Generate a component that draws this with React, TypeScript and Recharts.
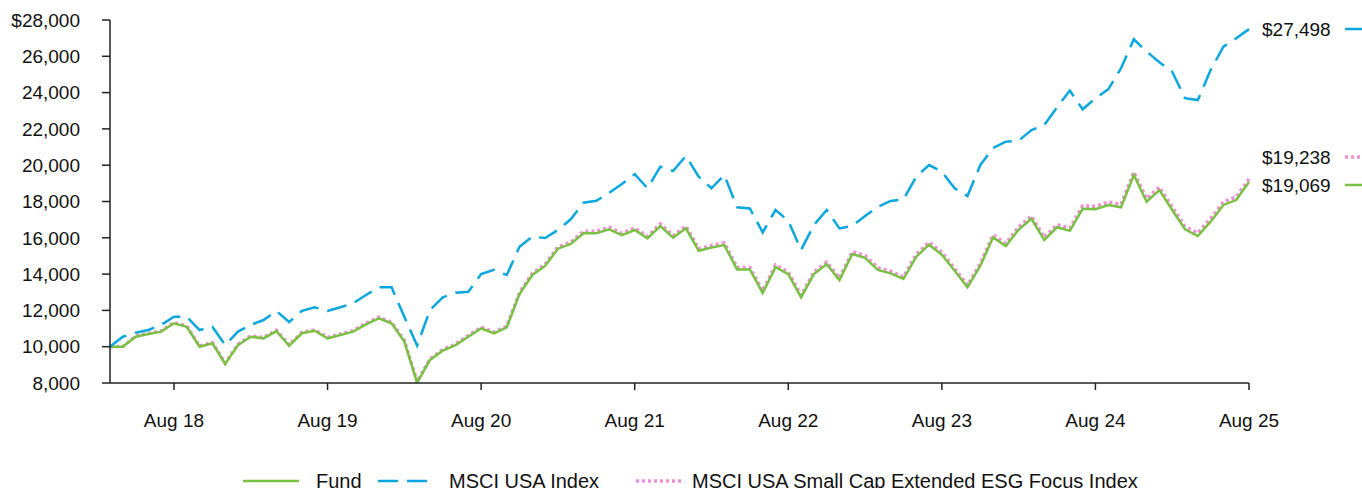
import React from "react";
import { LineChart, Line, XAxis, YAxis, LabelList } from "recharts";

// monthly points, Mar 2018 .. Aug 2025
const MONTH_NAMES = ["Jan", "Feb", "Mar", "Apr", "May", "Jun", "Jul", "Aug", "Sep", "Oct", "Nov", "Dec"];
const months: string[] = [];
for (let y = 2018; y <= 2025; y++) {
  for (let m = 0; m < 12; m++) {
    if (y === 2018 && m < 2) continue;
    if (y === 2025 && m > 7) break;
    months.push(`${MONTH_NAMES[m]} ${String(y).slice(2)}`);
  }
}

const xTicks = ["Aug 18", "Aug 19", "Aug 20", "Aug 21", "Aug 22", "Aug 23", "Aug 24", "Aug 25"];
const yTicks = [8000, 10000, 12000, 14000, 16000, 18000, 20000, 22000, 24000, 26000, 28000];

const fund = [
  10000, 10000, 10550, 10700, 10830, 11290, 11100, 10000, 10190, 9050,
  10090, 10550, 10460, 10860, 10055, 10740, 10880, 10460, 10640, 10830,
  11230, 11560, 11290, 10280, 8020, 9270, 9780, 10090, 10550, 11010,
  10740, 11070, 12900, 13950, 14450, 15400, 15660, 16250, 16250, 16470,
  16150, 16430, 15970, 16650, 16010, 16520, 15290, 15470, 15600, 14260,
  14260, 12960, 14380, 14000, 12720, 14000, 14540, 13670, 15110, 14900,
  14230, 14040, 13730, 14960, 15620, 15070, 14180, 13270, 14450, 16020,
  15550, 16450, 17050, 15880, 16580, 16380, 17600, 17580, 17810, 17680,
  19460, 17990, 18630, 17530, 16470, 16100, 16890, 17810, 18080, 19069,
];

const msciUsa = [
  10000, 10550, 10770, 10920, 11200, 11650, 11650, 10920, 11100, 10090,
  10830, 11200, 11470, 11970, 11360, 11980, 12170, 11970, 12170, 12390,
  12850, 13270, 13270, 11650, 10060, 12020, 12720, 12975, 13030, 14000,
  14230, 13950, 15510, 16060, 15990, 16430, 17020, 17930, 18040, 18480,
  18960, 19510, 18730, 19920, 19680, 20510, 19370, 18730, 19460, 17680,
  17620, 16300, 17530, 16940, 15330, 16700, 17530, 16520, 16650, 17200,
  17710, 18030, 18120, 19370, 20010, 19640, 18730, 18300, 20000, 20950,
  21300, 21350, 21940, 22210, 23190, 24110, 23080, 23690, 24180, 25340,
  26940, 26260, 25670, 25150, 23690, 23590, 25240, 26530, 26990, 27498,
];

const smallCapEsg = [
  10000, 10010, 10580, 10730, 10870, 11330, 11140, 10040, 10230, 9090,
  10130, 10600, 10510, 10910, 10100, 10790, 10930, 10510, 10700, 10890,
  11290, 11630, 11350, 10340, 8070, 9320, 9840, 10150, 10620, 11080,
  10810, 11140, 12980, 14040, 14540, 15500, 15760, 16360, 16360, 16580,
  16260, 16540, 16080, 16770, 16120, 16640, 15400, 15580, 15720, 14370,
  14370, 13070, 14500, 14110, 12830, 14120, 14660, 13780, 15240, 15030,
  14350, 14160, 13850, 15090, 15760, 15200, 14310, 13390, 14580, 16160,
  15690, 16600, 17200, 16020, 16730, 16530, 17760, 17740, 17970, 17840,
  19620, 18150, 18800, 17690, 16630, 16260, 17060, 17980, 18250, 19238,
];

const data = months.map((m, i) => ({
  month: m,
  fund: fund[i],
  msci: msciUsa[i],
  esg: smallCapEsg[i],
}));

const FONT = '"Liberation Sans", Arial, Helvetica, sans-serif';
const GREEN = "#7AC143";
const BLUE = "#0AA6DE";
const PINK = "#F08ED8";
const AXIS = "#222";
const LAST = data.length - 1;

const fmtEnd = (v: number) => "$" + v.toLocaleString("en-US");

// end-of-line value label with a small line sample after it
const endLabel = (color: string, dash: string | undefined, width: number, dy: number) =>
  (props: any) => {
    const { x, y, index, value } = props;
    if (index !== LAST) return null;
    const ty = y + dy;
    return (
      <g>
        <text x={x + 13} y={ty} dy="0.35em" fontSize={19} fontFamily={FONT} fill="#111">
          {fmtEnd(value)}
        </text>
        <line x1={x + 96} x2={x + 130} y1={ty} y2={ty} stroke={color} strokeWidth={width} strokeDasharray={dash} />
      </g>
    );
  };

const legendItems = [
  { name: "Fund", color: GREEN, dash: undefined, width: 2.5, lineX: 243, lineW: 56, textX: 316 },
  { name: "MSCI USA Index", color: BLUE, dash: "20 9", width: 2.5, lineX: 378, lineW: 56, textX: 449 },
  { name: "MSCI USA Small Cap Extended ESG Focus Index", color: PINK, dash: "3 3", width: 3.5, lineX: 636, lineW: 47, textX: 692 },
];

export default function App() {
  return (
    <div style={{ position: "absolute", left: 0, top: 0, width: 1362, height: 488, background: "#fff", overflow: "hidden" }}>
      <LineChart width={1362} height={488} data={data} margin={{ top: 20, right: 113, bottom: 45, left: 0 }}>
        <XAxis
          dataKey="month"
          ticks={xTicks}
          interval={0}
          height={60}
          stroke={AXIS}
          strokeWidth={1.5}
          tickSize={7}
          tickMargin={24}
          tick={{ fontSize: 19, fontFamily: FONT, fill: "#111" }}
        />
        <YAxis
          domain={[8000, 28000]}
          ticks={yTicks}
          interval={0}
          width={110}
          stroke={AXIS}
          strokeWidth={1.5}
          tickSize={8}
          tickMargin={22}
          allowDataOverflow
          tick={{ fontSize: 19, fontFamily: FONT, fill: "#111" }}
          tickFormatter={(v: number) => (v === 28000 ? "$" : "") + v.toLocaleString("en-US")}
        />
        <Line
          dataKey="esg"
          name="MSCI USA Small Cap Extended ESG Focus Index"
          type="linear"
          stroke={PINK}
          strokeWidth={3.5}
          strokeDasharray="3 3"
          dot={false}
          isAnimationActive={false}
        >
          <LabelList dataKey="esg" content={endLabel(PINK, "3 3", 3.5, -22)} />
        </Line>
        <Line
          dataKey="fund"
          name="Fund"
          type="linear"
          stroke={GREEN}
          strokeWidth={2.5}
          dot={false}
          isAnimationActive={false}
        >
          <LabelList dataKey="fund" content={endLabel(GREEN, undefined, 2.5, 3)} />
        </Line>
        <Line
          dataKey="msci"
          name="MSCI USA Index"
          type="linear"
          stroke={BLUE}
          strokeWidth={2.5}
          strokeDasharray="20 9"
          dot={false}
          isAnimationActive={false}
        >
          <LabelList dataKey="msci" content={endLabel(BLUE, "20 9", 2.5, 0)} />
        </Line>
      </LineChart>
      {legendItems.map((it) => (
        <React.Fragment key={it.name}>
          <svg style={{ position: "absolute", left: it.lineX, top: 476 }} width={it.lineW} height={10}>
            <line x1={0} x2={it.lineW} y1={5} y2={5} stroke={it.color} strokeWidth={it.width} strokeDasharray={it.dash} />
          </svg>
          <div
            style={{
              position: "absolute",
              left: it.textX,
              top: 470,
              fontSize: 20,
              fontFamily: FONT,
              color: "#111",
              lineHeight: "23px",
              whiteSpace: "nowrap",
            }}
          >
            {it.name}
          </div>
        </React.Fragment>
      ))}
    </div>
  );
}
